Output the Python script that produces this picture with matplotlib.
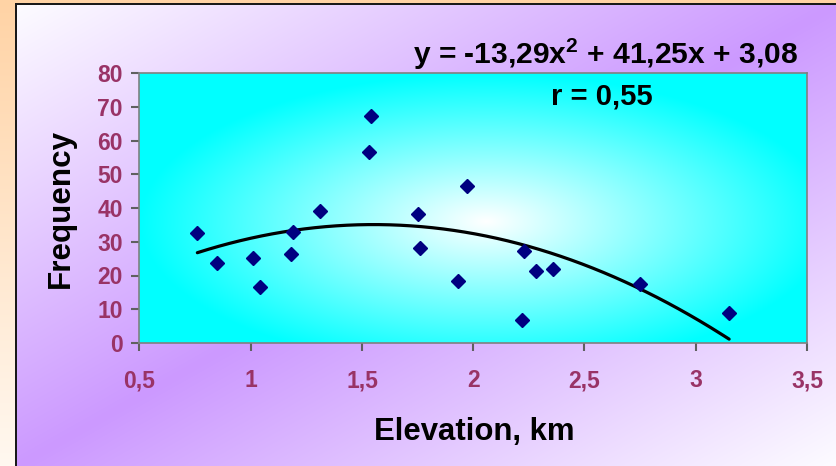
import numpy as np
import matplotlib
matplotlib.use("Agg")
import matplotlib.pyplot as plt

# ---- data ----
elevation_km = [0.76, 0.85, 1.01, 1.04, 1.18, 1.19, 1.31, 1.53, 1.54, 1.75, 1.76,
                1.93, 1.97, 2.22, 2.23, 2.28, 2.36, 2.75, 3.15]
frequency = [32.5, 23.6, 25.1, 16.7, 26.3, 33.0, 39.2, 56.6, 67.3, 38.1, 28.1,
             18.5, 46.5, 6.7, 27.3, 21.3, 21.8, 17.6, 9.0]
trend_coef = [-13.29, 41.25, 3.08]   # y = a x^2 + b x + c
x_ticks = [0.5, 1, 1.5, 2, 2.5, 3, 3.5]
x_ticklabels = ["0,5", "1", "1,5", "2", "2,5", "3", "3,5"]
y_ticks = [0, 10, 20, 30, 40, 50, 60, 70, 80]
equation_text = "y = -13,29x$^{2}$ + 41,25x + 3,08"
r_text = "r = 0,55"

plt.rcParams['font.family'] = ['Liberation Sans', 'DejaVu Sans']
plt.rcParams['mathtext.fontset'] = 'custom'
plt.rcParams['mathtext.rm'] = 'Liberation Sans:bold'
plt.rcParams['mathtext.bf'] = 'Liberation Sans:bold'
plt.rcParams['mathtext.default'] = 'rm'

W, H = 837, 466
fig = plt.figure(figsize=(W / 100, H / 100), dpi=100)

# ---- background ----
yy, xx = np.mgrid[0:H, 0:W]
peach = np.array([255, 211, 165]) / 255
cream = np.array([255, 248, 240]) / 255
tv = (yy / (H - 1))[..., None]
bg = peach * (1 - tv) + cream * tv

px0, py0 = 16, 4
purple = np.array([204, 153, 255]) / 255
white = np.array([253, 252, 255]) / 255
u = (xx - px0) / (W - px0)
v = (yy - py0) / (H - py0)
t = np.clip(np.abs(u + v - 1), 0, 1)[..., None]
panel = purple * (1 - t) + white * t
mask = ((xx >= px0) & (yy >= py0))[..., None]
bg = np.where(mask, panel, bg)
border = np.array([0.1, 0.1, 0.1])
bmask = (((xx >= px0 - 1) & (xx <= px0) & (yy >= py0 - 1)) |
         ((yy >= py0 - 1) & (yy <= py0) & (xx >= px0 - 1)))[..., None]
bg = np.where(bmask, border, bg)

bg_ax = fig.add_axes([0, 0, 1, 1], zorder=-10)
bg_ax.imshow(bg, aspect='auto', interpolation='bilinear')
bg_ax.axis('off')

# ---- plot area ----
left, right, bottom, top = 139.5, 807, 343, 73
pos = [left / W, 1 - bottom / H, (right - left) / W, (bottom - top) / H]

g_ax = fig.add_axes(pos, zorder=0)
gy, gx = np.mgrid[0:270, 0:668]
dx = (gx / 667 - 0.52) / 0.52
dy = (gy / 269 - 0.55) / 0.55
r = np.clip(np.sqrt(dx ** 2 + dy ** 2), 0, 1)[..., None]
cyan = np.array([0, 1, 1])
wc = np.array([1, 1, 1])
grad = wc * (1 - r) + cyan * r
g_ax.imshow(grad, aspect='auto', interpolation='bilinear')
g_ax.axis('off')

ax = fig.add_axes(pos, zorder=1)
ax.patch.set_visible(False)

xs = np.linspace(min(elevation_km), max(elevation_km), 200)
ax.plot(xs, np.polyval(trend_coef, xs), color='black', lw=2.3, zorder=2,
        solid_capstyle='round')
ax.plot(elevation_km, frequency, linestyle='none', marker='D', ms=7,
        color='#000080', zorder=3)

ax.set_xlim(0.5, 3.5)
ax.set_ylim(0, 80)
ax.set_xticks(x_ticks)
ax.set_xticklabels(x_ticklabels)
ax.set_yticks(y_ticks)

tick_color = '#993366'
for lab in ax.get_xticklabels() + ax.get_yticklabels():
    lab.set_fontweight('bold')
    lab.set_color(tick_color)
    lab.set_fontsize(16.5)
ax.tick_params(axis='x', direction='out', length=6, width=1.5, color='#606060', pad=13)
ax.tick_params(axis='y', direction='out', length=6, width=1.5, color='#606060', pad=6)
for s in ax.spines.values():
    s.set_color('#808080')
    s.set_linewidth(1.2)

fig.text(474 / W, 1 - 432 / H, "Elevation, km", ha='center', va='center',
         fontsize=22.4, fontweight='bold', color='black')
fig.text(61 / W, 1 - 208 / H, "Frequency", ha='center', va='center',
         rotation=90, fontsize=22.6, fontweight='bold', color='black')

fig.text(413 / W, 1 - 64 / H, equation_text, ha='left', va='baseline',
         fontsize=21.6, fontweight='bold', color='black')
fig.text(551 / W, 1 - 104 / H, r_text, ha='left', va='baseline',
         fontsize=21, fontweight='bold', color='black')

fig.savefig("out.png", dpi=100)
